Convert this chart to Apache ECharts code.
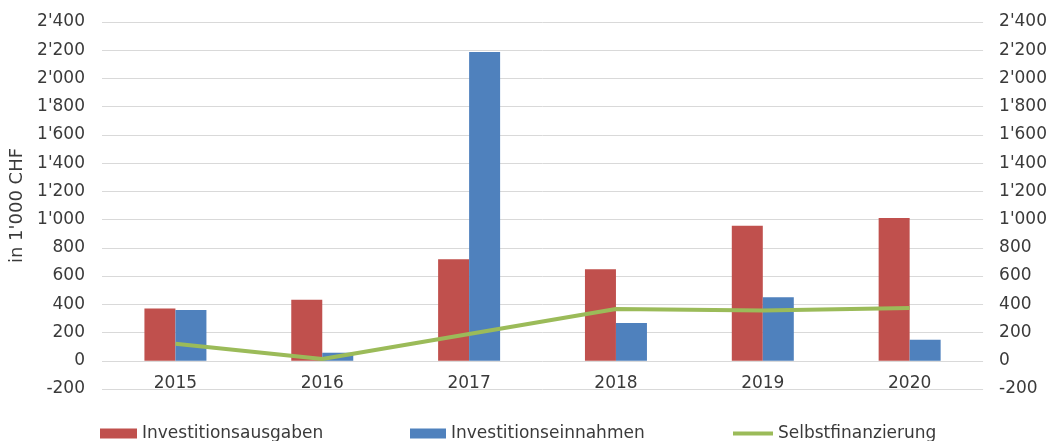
<!DOCTYPE html>
<html>
<head>
<meta charset="utf-8">
<script src="https://cdn.jsdelivr.net/npm/echarts@6/dist/echarts.min.js"></script>
<style>
  html, body { margin: 0; padding: 0; background: #fff; }
  #chart { width: 1050px; height: 441px; }
</style>
</head>
<body>
<div id="chart"></div>
<script>
  // Jahre und Werte (in 1'000 CHF)
  const years = ['2015', '2016', '2017', '2018', '2019', '2020'];
  const ausgaben = [370, 433, 720, 648, 957, 1011];
  const einnahmen = [360, 57, 2188, 268, 450, 149];
  const selbstfinanzierung = [120, 12, 190, 367, 357, 374];

  const fontName = 'DejaVu Sans';
  const textColor = '#3a3a3a';
  const gridColor = '#d9d9d9';

  // 2400 -> 2'400
  function fmt(v) {
    return String(v).replace(/\B(?=(\d{3})+(?!\d))/g, "'");
  }

  const chart = echarts.init(document.getElementById('chart'));

  const valueAxis = {
    type: 'value',
    min: -200,
    max: 2400,
    interval: 200,
    axisLine: { show: false },
    axisTick: { show: false },
    axisLabel: {
      color: textColor,
      fontFamily: fontName,
      fontSize: 17,
      formatter: fmt
    }
  };

  const legendText = { color: textColor, fontFamily: fontName, fontSize: 17 };

  const option = {
    animation: false,
    grid: { left: 102, right: 66, top: 22, bottom: 52 },
    legend: [
      {
        left: 100, top: 425, padding: 0,
        itemWidth: 37, itemHeight: 10,
        icon: 'rect',
        textStyle: legendText,
        data: ['Investitionsausgaben']
      },
      {
        left: 410, top: 425, padding: 0,
        itemWidth: 36, itemHeight: 10,
        icon: 'rect',
        textStyle: legendText,
        data: ['Investitionseinnahmen']
      },
      {
        left: 733, top: 425, padding: 0,
        itemWidth: 40, itemHeight: 4,
        icon: 'rect',
        textStyle: legendText,
        data: ['Selbstfinanzierung']
      }
    ],
    xAxis: {
      type: 'category',
      data: years,
      // Achse auf der Null-Linie (ein Schritt über dem unteren Rand)
      offset: -29,
      axisLine: { show: false, onZero: false },
      axisTick: { show: false },
      axisLabel: {
        color: textColor,
        fontFamily: fontName,
        fontSize: 17,
        margin: 15
      }
    },
    yAxis: [
      Object.assign({}, valueAxis, {
        name: "in 1'000 CHF",
        nameLocation: 'middle',
        nameGap: 68,
        nameRotate: 90,
        nameTextStyle: { color: textColor, fontFamily: fontName, fontSize: 18 },
        axisLabel: Object.assign({}, valueAxis.axisLabel, { margin: 17 }),
        splitLine: { lineStyle: { color: gridColor, width: 1 } }
      }),
      Object.assign({}, valueAxis, {
        position: 'right',
        axisLabel: Object.assign({}, valueAxis.axisLabel, { margin: 16 }),
        splitLine: { show: false }
      })
    ],
    series: [
      {
        name: 'Investitionsausgaben',
        type: 'bar',
        data: ausgaben,
        barWidth: 31,
        barGap: '0%',
        itemStyle: { color: '#C0504D' }
      },
      {
        name: 'Investitionseinnahmen',
        type: 'bar',
        data: einnahmen,
        barWidth: 31,
        barGap: '0%',
        itemStyle: { color: '#4F81BD' }
      },
      {
        name: 'Selbstfinanzierung',
        type: 'line',
        yAxisIndex: 1,
        data: selbstfinanzierung,
        symbol: 'none',
        lineStyle: { color: '#9BBB59', width: 4 },
        itemStyle: { color: '#9BBB59' }
      }
    ]
  };

  chart.setOption(option);
</script>
</body>
</html>
